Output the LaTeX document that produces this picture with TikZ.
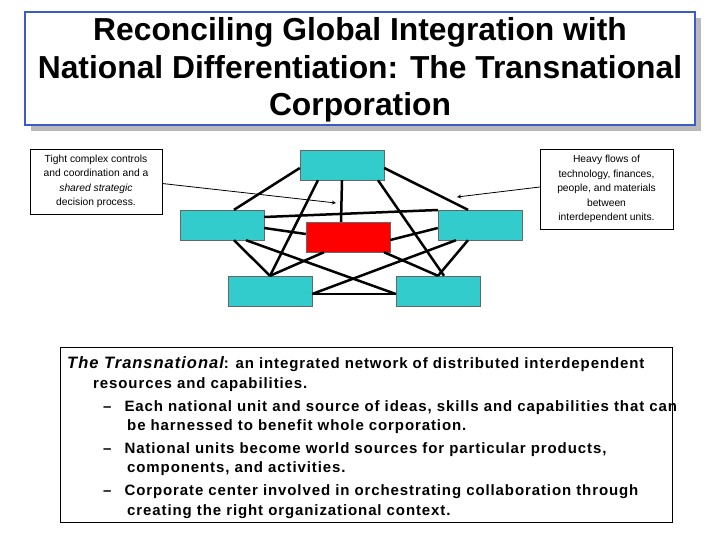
\documentclass[tikz,border=0pt]{standalone}
\usepackage{fontspec}
\setmainfont{Liberation Sans}
\begin{document}
\begin{tikzpicture}[x=1pt,y=-1pt,
 link/.style={line width=2.5pt},
 note/.style={draw,font=\fontsize{10.3}{14.5}\selectfont,align=center,inner sep=2pt},
 body/.style={anchor=base west,inner sep=0pt,font=\fontsize{15}{16}\selectfont\bfseries\addfontfeature{LetterSpace=6}}]
\useasboundingbox (0,0) rectangle (720,540);
\definecolor{tl}{RGB}{51,204,204}
\definecolor{tb}{RGB}{60,90,200}
\fill[gray!55] (31,18) rectangle (701,131);
\draw[tb,fill=white,line width=1.2pt] (25,12) rectangle (695,125);
\node[font=\fontsize{31.8}{37.5}\selectfont\bfseries,align=center] (title) at (360,70) {Reconciling Global Integration with\\National Differentiation: The Transnational\\Corporation};
\tikzset{unit/.style={draw=black!60,fill=tl,minimum width=84pt,minimum height=30pt,inner sep=0pt}}
\node[unit] (t) at (342,165) {};
\node[unit] (l) at (222,225) {};
\node[unit] (r) at (480,225) {};
\node[unit,fill=red] (c) at (348,237) {};
\node[unit] (bl) at (270,291) {};
\node[unit] (br) at (438,291) {};
\draw[link] ([yshift=-3pt]t.west) -- ([xshift=12pt]l.north);
\draw[link] ([xshift=-24pt]t.south) -- (bl.north);
\draw[link] (t.south) -- ([xshift=-7pt]c.north);
\draw[link] ([xshift=36pt]t.south) -- ([xshift=6pt]br.north);
\draw[link] ([yshift=-3pt]t.east) -- ([xshift=-12pt]r.north);
\draw[link] ([yshift=8pt]l.east) -- ([yshift=15pt]r.west);
\draw[link] ([yshift=-3pt]l.east) -- ([yshift=3pt]c.west);
\draw[link] ([yshift=-3pt]c.east) -- ([yshift=-3pt]r.west);
\draw[link] ([xshift=12pt]l.south) -- (bl.north);
\draw[link] ([xshift=24pt]l.south) -- ([yshift=-3pt]br.west);
\draw[link] ([xshift=-24pt]c.south) -- (bl.north);
\draw[link] ([xshift=36pt]c.south) -- (br.north);
\draw[link] ([xshift=-24pt]r.south) -- ([yshift=-3pt]bl.east);
\draw[link] ([xshift=-12pt]r.south) -- (br.north);
\draw[link] ([yshift=-3pt]bl.east) -- ([yshift=-3pt]br.west);
\node[note,minimum width=132pt,minimum height=65pt] (nl) at (96,181.5) {Tight complex controls\\and coordination and a\\\textit{shared strategic}\\decision process.};
\node[note,minimum width=133pt,minimum height=80pt] (nr) at (606.5,189) {Heavy flows of\\technology, finances,\\people, and materials\\between\\interdependent units.};
\coordinate (al) at (336,203);
\coordinate (ar) at (457,197);
\draw[->,>=stealth,thick] ([yshift=-2pt]nl.east) -- (al);
\draw[->,>=stealth,thick] ([yshift=2pt]nr.west) -- (ar);
\draw (60,347) rectangle (672,522);
\node[body] (b1) at (67,368) {{\fontsize{16.5}{16}\selectfont\itshape The Transnational}: an integrated network of distributed interdependent};
\node[body] (b2) at (93,388) {resources and capabilities.};
\node[body] (d1) at (103,411) {–\hspace{13pt}Each national unit and source of ideas, skills and capabilities that can};
\node[body] (b3) at (127,430) {be harnessed to benefit whole corporation.};
\node[body] (d2) at (103,453) {–\hspace{13pt}National units become world sources for particular products,};
\node[body] (b4) at (127,472) {components, and activities.};
\node[body] (d3) at (103,495) {–\hspace{13pt}Corporate center involved in orchestrating collaboration through};
\node[body] (b5) at (127,515) {creating the right organizational context.};
\end{tikzpicture}
\end{document}
